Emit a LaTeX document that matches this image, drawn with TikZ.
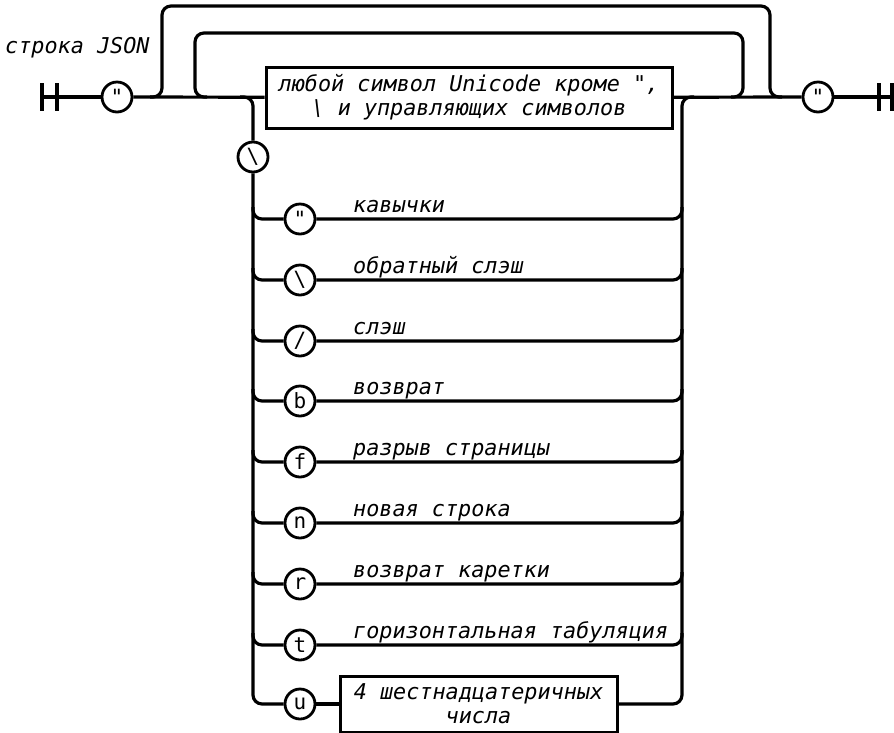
\documentclass[tikz,border=0pt]{standalone}
\usepackage{fontspec}
\setmonofont{DejaVu Sans Mono}
\usetikzlibrary{positioning}

\tikzset{
  rail/.style={line width=3.2pt, rounded corners=9pt},
  token/.style={draw, circle, line width=2.8pt, minimum size=30pt, inner sep=0pt,
    font=\fontsize{21}{21}\selectfont\ttfamily},
  rulebox/.style={draw, rectangle, line width=3pt, align=center, inner sep=0pt,
    font=\fontsize{21.8}{24}\selectfont\ttfamily\itshape},
  note/.style={anchor=base west, inner sep=0pt, font=\fontsize{21.8}{24}\selectfont\ttfamily\itshape}
}

\begin{document}
\begin{tikzpicture}[x=1pt, y=-1pt]
\useasboundingbox (0,0) rectangle (894,732);
% title and end markers
\node[note] (title) at (5,53) {строка JSON};
\draw[line width=3.2pt] (42,83) -- (42,111) (57,83) -- (57,111);
\draw[line width=3.2pt] (879,83) -- (879,111) (892,83) -- (892,111);
\coordinate (startbar) at (42,97);
\coordinate (endbar) at (892,97);
% main line
\node[token] (qopen) at (117,97) {"};
\node[token] (qclose) at (818,97) {"};
\node[rulebox, minimum width=406pt, minimum height=61pt] (anychar) at (469,97.5)
  {любой символ Unicode кроме ",\\\textbackslash{} и управляющих символов};
\draw[rail] (startbar) -- (qopen);
\draw[rail] (qopen) -- (anychar);
\draw[rail] (anychar) -- (qclose);
\draw[rail] (qclose) -- (endbar);
% loops: empty string (outer) and repeat (inner)
\coordinate (outw) at (150,97);
\coordinate (oute) at (782,97);
\draw[rail] (outw) -- ++(12,0) -- ++(0,-91) -- ++(608,0) -- ++(0,91) -- (oute);
\coordinate (innw) at (207,97);
\coordinate (inne) at (731,97);
\draw[rail] (innw) -- ++(-12,0) -- ++(0,-64) -- ++(548,0) -- ++(0,64) -- (inne);
% escape sequences
\coordinate (escin) at (240,97);
\coordinate (escup) at (682,97);
\coordinate (escout) at (694,97);
\node[token] (esc) at (253,157) {\textbackslash};
\draw[rail] (escin) -| (esc);
\foreach \name/\ch/\row/\txt in {quot/"/219/кавычки, bsl/\textbackslash/280/обратный слэш,
  sl/\slash/341/слэш, b/b/401/возврат, f/f/462/разрыв страницы, n/n/523/новая строка,
  r/r/584/возврат каретки, t/t/645/горизонтальная табуляция} {
  \node[token] (c\name) at (300,\row) {\ch};
  \node[note] at (353,\row-7) {\txt};
  \draw[rail] (253,\row-12) |- (c\name);
  \draw[rail] (c\name) -| (682,\row-12);
}
\node[token] (chex) at (300,704) {u};
\node[rulebox, minimum width=277pt, minimum height=56pt] (hexdigits) at (478.5,704)
  {4 шестнадцатеричных\\числа};
\draw[rail] (esc) |- (chex);
\draw[rail] (chex) -- (hexdigits);
\draw[rail] (hexdigits) -| (escup) -- (escout);
\end{tikzpicture}
\end{document}
